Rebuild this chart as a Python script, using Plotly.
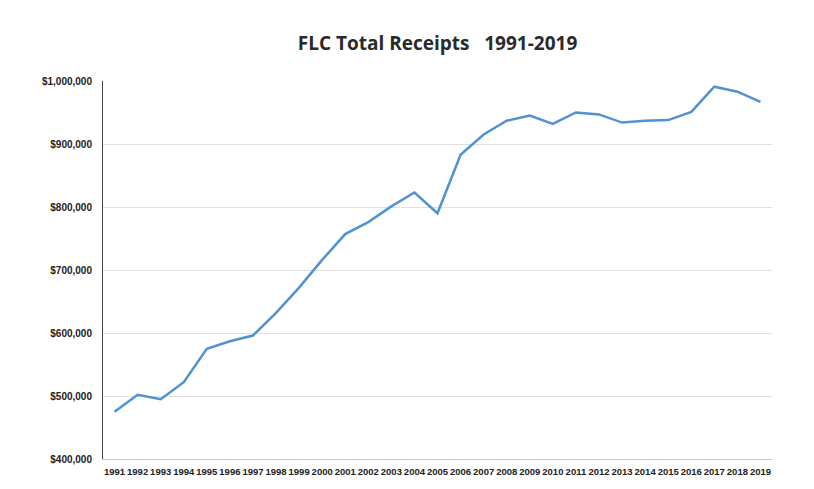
import plotly.graph_objects as go

years = [str(y) for y in range(1991, 2020)]
receipts = [475000, 502000, 495000, 522000, 575000, 587000, 596000, 632000, 672000,
            716000, 757000, 776000, 801000, 823000, 790000, 883000, 915000, 937000,
            945000, 932000, 950000, 947000, 934000, 937000, 938000, 951000, 991000,
            983000, 967000]
y_ticks = [400000, 500000, 600000, 700000, 800000, 900000, 1000000]
y_labels = ["$400,000", "$500,000", "$600,000", "$700,000", "$800,000", "$900,000", "$1,000,000"]

fig = go.Figure()
fig.add_trace(go.Scatter(x=years, y=receipts, mode="lines",
                         line=dict(color="#5192d2", width=2.5), showlegend=False))

fig.update_layout(
    width=814, height=489,
    margin=dict(l=103, r=42, t=81, b=28),
    paper_bgcolor="white", plot_bgcolor="white",
    title=dict(text="<b>FLC Total Receipts\u00a0\u00a0\u00a01991-2019</b>",
               x=0.5, xref="paper", xanchor="center", y=1 - 43 / 489, yanchor="middle",
               font=dict(family="Open Sans, Liberation Sans, sans-serif", size=19, color="#2a2a2a")),
    font=dict(family="Liberation Sans, Arial, sans-serif", color="#222222"),
)
fig.update_xaxes(type="category", range=[-0.5, 28.5], showgrid=False,
                 showline=True, linecolor="#c8c8c8", linewidth=1,
                 ticks="", tickangle=0, ticklabelstandoff=4,
                 tickfont=dict(size=9.5, color="#222222", family="Liberation Sans, Arial"),
                 tickprefix="<b>", ticksuffix="</b>")
fig.update_yaxes(range=[400000, 1000000], tickvals=y_ticks,
                 ticktext=["<b>" + t + "</b>" for t in y_labels],
                 showgrid=True, gridcolor="#e0e0e0", gridwidth=1,
                 showline=True, linecolor="#444444", linewidth=1,
                 zeroline=False, ticks="", ticklabelstandoff=8,
                 tickfont=dict(size=10, color="#222222"))

fig.write_html("out.html")
